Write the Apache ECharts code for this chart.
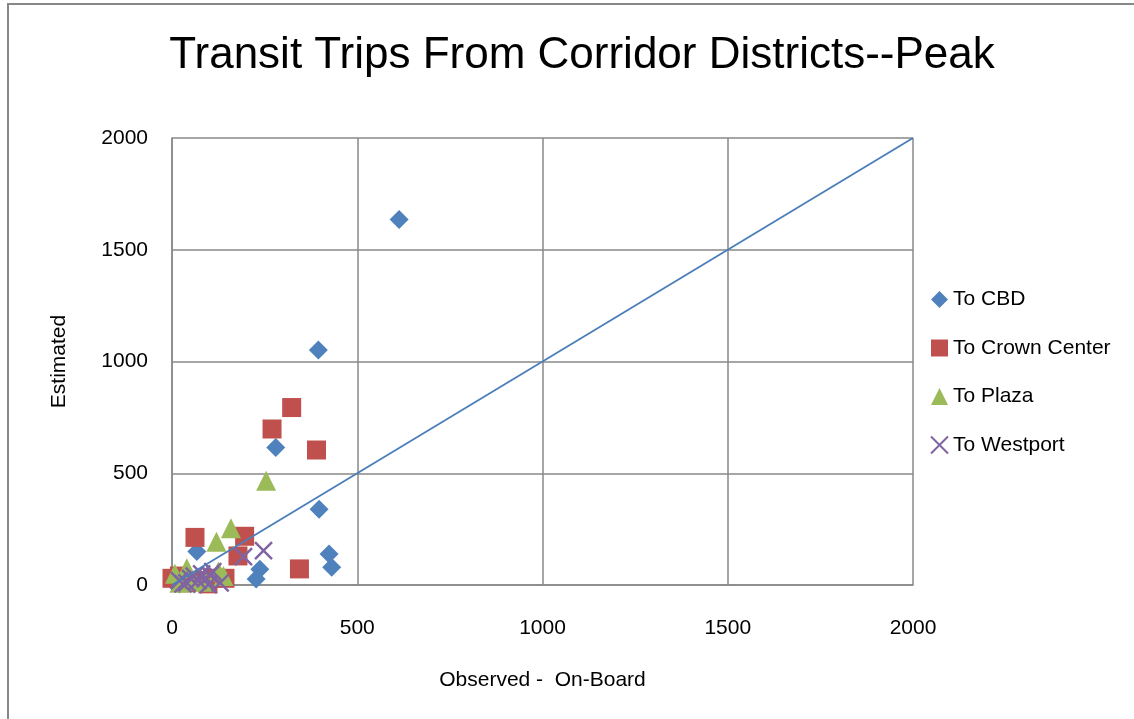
<!DOCTYPE html>
<html><head><meta charset="utf-8">
<script src="https://cdn.jsdelivr.net/npm/echarts@6/dist/echarts.min.js"></script>
<style>html,body{margin:0;padding:0;background:#fff}#c{width:1134px;height:719px}</style>
</head><body><div id="c"></div>
<script>
var seriesNames = ['To CBD', 'To Crown Center', 'To Plaza', 'To Westport'];
var toCBD = [[613,1635],[395,1052],[280,615],[397,339],[424,139],[431,79],[237,70],[227,27],[67,150],[5,10],[20,5],[40,15],[90,20],[110,10],[60,5]];
var toCrownCenter = [[323,794],[270,698],[390,604],[344,72],[62,213],[196,218],[178,130],[143,30],[0,30],[97,5],[40,10],[20,40],[110,30],[60,20]];
var toPlaza = [[254,466],[159,254],[120,194],[139,40],[40,75],[8,50],[125,60],[60,20],[20,10],[90,15]];
var toWestport = [[247,154],[193,127],[103,45],[98,2],[20,20],[40,10],[50,30],[70,20],[80,50],[30,5],[60,40],[110,60],[90,30],[130,10]];
var refLine = [[0,0],[2000,2000]];

var FONT = '"Liberation Sans", sans-serif';
var XPATH = 'path://M0,0 L10,10 M10,0 L0,10';
var plain = function (v) { return String(v); };
var chart = echarts.init(document.getElementById('c'), null, {renderer:'canvas'});
chart.setOption({
  animation:false,
  backgroundColor:'#fff',
  graphic:[{type:'rect', shape:{x:8,y:4,width:1200,height:800}, style:{fill:'none', stroke:'#888', lineWidth:2}, silent:true}],
  title:{text:'Transit Trips From Corridor Districts--Peak', left:577, top:29, textAlign:'center',
    textStyle:{fontFamily:FONT, fontWeight:'normal', fontSize:44, color:'#000'}},
  grid:{left:172, right:221, top:138, bottom:134},
  xAxis:{type:'value', min:0, max:2000, interval:500,
    name:'Observed -  On-Board', nameLocation:'middle', nameGap:85,
    nameTextStyle:{fontFamily:FONT, fontSize:21, color:'#000'},
    axisLine:{show:true, onZero:false, lineStyle:{color:'#888', width:1.5}},
    axisTick:{show:false},
    axisLabel:{fontFamily:FONT, fontSize:21, color:'#000', margin:33, formatter:plain},
    splitLine:{show:true, lineStyle:{color:'#888', width:1.5}}},
  yAxis:{type:'value', min:0, max:2000, interval:500,
    name:'Estimated', nameLocation:'middle', nameGap:102, nameRotate:90,
    nameTextStyle:{fontFamily:FONT, fontSize:21, color:'#000'},
    axisLine:{show:true, lineStyle:{color:'#888', width:1.5}},
    axisTick:{show:false},
    axisLabel:{fontFamily:FONT, fontSize:21, color:'#000', margin:24, formatter:plain},
    splitLine:{show:true, lineStyle:{color:'#888', width:1.5}}},
  legend:{orient:'vertical', left:925, top:284, itemGap:27.5, itemWidth:17, itemHeight:17,
    textStyle:{fontFamily:FONT, fontSize:21, color:'#000'},
    data:[
      {name:seriesNames[0], icon:'diamond'},
      {name:seriesNames[1], icon:'rect'},
      {name:seriesNames[2], icon:'triangle'},
      {name:seriesNames[3], icon:XPATH, itemStyle:{color:'transparent', borderColor:'#8064A2', borderWidth:2}}
    ]},
  series:[
    {name:'ref', type:'line', data:refLine, symbol:'none', lineStyle:{color:'#4A7EBB', width:1.8}, z:5, silent:true},
    {name:seriesNames[0], type:'scatter', data:toCBD, symbol:'diamond', symbolSize:19, itemStyle:{color:'#4F81BD', opacity:1}, z:3},
    {name:seriesNames[1], type:'scatter', data:toCrownCenter, symbol:'rect', symbolSize:19, itemStyle:{color:'#C0504D', opacity:1}, z:3},
    {name:seriesNames[2], type:'scatter', data:toPlaza, symbol:'triangle', symbolSize:20, itemStyle:{color:'#9BBB59', opacity:1}, z:3},
    {name:seriesNames[3], type:'scatter', data:toWestport, symbol:XPATH, symbolSize:17, itemStyle:{color:'transparent', borderColor:'#8064A2', borderWidth:2.5, opacity:1}, z:4}
  ]
});
</script></body></html>
